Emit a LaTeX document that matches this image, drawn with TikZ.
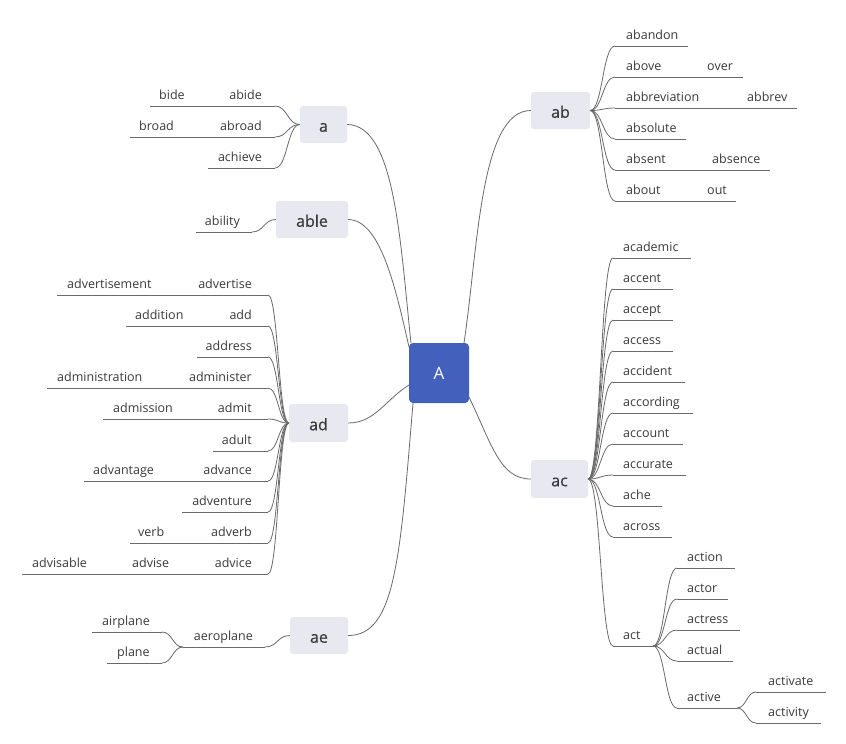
\documentclass[tikz,border=0pt]{standalone}
\usepackage{fontspec}
\setmainfont{Open Sans}
\newfontfamily\topicfont[FakeBold=0.6]{Open Sans}
\usetikzlibrary{calc}
\definecolor{topicfill}{HTML}{E8E8F0}
\definecolor{rootfill}{HTML}{4361BC}
\definecolor{txt}{HTML}{3A3A3A}
\definecolor{lncol}{HTML}{6A6A6A}
\tikzset{
 ln/.style={draw=lncol, line width=0.8pt},
 wtext/.style={text=txt, font=\fontsize{12.5}{14}\selectfont, inner sep=0pt},
 topic/.style={fill=topicfill, rounded corners=3pt, text=txt, font=\topicfont\fontsize{16}{19}\selectfont, inner sep=0pt, text height=14.5pt, text depth=0pt},
 rootbox/.style={fill=rootfill, rounded corners=4pt, text=white, font=\fontsize{17}{20}\selectfont, minimum width=60pt, minimum height=60pt, inner sep=0pt},
}
\newcommand\curv[2]{\draw[ln] let \p1=(#1), \p2=(#2) in (\p1) .. controls ({0.5*\x1+0.5*\x2},\y1) and ({0.5*\x1+0.5*\x2},\y2) .. (\p2);}
\newcommand\wseg[7]{%
 \coordinate (#1-l) at (#4,#6);
 \coordinate (#1-r) at (#5,#6);
 \node[wtext,anchor=#2] (#1) at (#3,#6-6.3) {#7};
 \draw[ln] (#1-l) -- (#1-r);}
\begin{document}
\begin{tikzpicture}[x=1pt,y=-1pt]
\useasboundingbox[fill=white] (0,0) rectangle (846,744);
% root and topics
\node[rootbox] (A) at (439,373) {A};
\node[topic, minimum width=47pt, minimum height=37pt] (a) at (323.5,124.5) {a};
\node[topic, minimum width=72pt, minimum height=37pt] (able) at (312,219.5) {able};
\node[topic, minimum width=59pt, minimum height=38pt] (ad) at (318.5,423) {ad};
\node[topic, minimum width=58pt, minimum height=37pt] (ae) at (319,635.5) {ae};
\node[topic, minimum width=59pt, minimum height=37pt] (ab) at (560.5,110.5) {ab};
\node[topic, minimum width=57pt, minimum height=38pt] (ac) at (559.5,479) {ac};
% root connectors
\coordinate (A-a) at (411,343);
\coordinate (A-able) at (409,347);
\coordinate (A-ad) at (409,385);
\coordinate (A-ae) at (413,403);
\coordinate (A-ab) at (464,343);
\coordinate (A-ac) at (469,397);
\draw[ln] (A-a) .. controls (400,240) and (395,125) .. (a.east);
\draw[ln] (A-able) .. controls (395,285) and (380,220) .. (able.east);
\draw[ln] (A-ad) .. controls (385,400) and (375,423) .. (ad.east);
\draw[ln] (A-ae) .. controls (400,560) and (395,635.5) .. (ae.east);
\draw[ln] (A-ab) .. controls (478,250) and (480,110.5) .. (ab.west);
\draw[ln] (A-ac) .. controls (492,445) and (500,479) .. (ac.west);
% a
\wseg{abide}{base east}{262}{218}{275}{106}{abide}
\wseg{bide}{base west}{159}{150}{218}{106}{bide}
\wseg{abroad}{base east}{262}{218}{275}{137}{abroad}
\wseg{broad}{base west}{139}{130}{218}{137}{broad}
\wseg{achieve}{base east}{262}{208}{275}{168}{achieve}
\curv{a.west}{abide-r}
\curv{a.west}{abroad-r}
\curv{a.west}{achieve-r}
% able
\wseg{ability}{base east}{240}{196}{252}{232}{ability}
\curv{able.west}{ability-r}
% ad
\wseg{advertise}{base east}{252}{180}{268}{295}{advertise}
\wseg{advertisement}{base west}{67}{57}{180}{295}{advertisement}
\wseg{add}{base east}{252}{220}{268}{326}{add}
\wseg{addition}{base west}{135}{126}{220}{326}{addition}
\wseg{address}{base east}{252}{197}{268}{357}{address}
\wseg{administer}{base east}{252}{180}{268}{388}{administer}
\wseg{administration}{base west}{57}{47}{180}{388}{administration}
\wseg{admit}{base east}{252}{185}{268}{419}{admit}
\wseg{admission}{base west}{113}{103}{185}{419}{admission}
\wseg{adult}{base east}{252}{213}{268}{451}{adult}
\wseg{advance}{base east}{252}{170}{268}{481}{advance}
\wseg{advantage}{base west}{93}{84}{170}{481}{advantage}
\wseg{adventure}{base east}{252}{182}{268}{512}{adventure}
\wseg{adverb}{base east}{252}{180}{268}{543}{adverb}
\wseg{verb}{base west}{138}{130}{180}{543}{verb}
\wseg{advice}{base east}{252}{200}{268}{574}{advice}
\wseg{advise}{base west}{132}{122}{200}{574}{advise}
\wseg{advisable}{base west}{32}{22}{122}{574}{advisable}
\foreach \w in {advertise,add,address,administer,admit,adult,advance,adventure,adverb,advice}{\curv{ad.west}{\w-r}}
% ae
\wseg{aeroplane}{base east}{253}{183}{265}{647}{aeroplane}
\wseg{airplane}{base west}{102}{92}{162}{632}{airplane}
\wseg{plane}{base west}{117}{107}{162}{663}{plane}
\curv{ae.west}{aeroplane-r}
\curv{aeroplane-l}{airplane-r}
\curv{aeroplane-l}{plane-r}
% ab
\wseg{abandon}{base west}{626}{615}{688}{46}{abandon}
\wseg{above}{base west}{626}{615}{697}{77}{above}
\wseg{over}{base west}{707}{697}{743}{77}{over}
\wseg{abbreviation}{base west}{626}{615}{737}{108}{abbreviation}
\wseg{abbrev}{base west}{747}{737}{797}{108}{abbrev}
\wseg{absolute}{base west}{626}{615}{686}{139}{absolute}
\wseg{absent}{base west}{626}{615}{702}{170}{absent}
\wseg{absence}{base west}{712}{702}{770}{170}{absence}
\wseg{about}{base west}{626}{615}{697}{201}{about}
\wseg{out}{base west}{707}{697}{736}{201}{out}
\foreach \w in {abandon,above,abbreviation,absolute,absent,about}{\curv{ab.east}{\w-l}}
% ac
\wseg{academic}{base west}{623}{613}{691}{258}{academic}
\wseg{accent}{base west}{623}{613}{673}{289}{accent}
\wseg{accept}{base west}{623}{613}{673}{320}{accept}
\wseg{access}{base west}{623}{613}{673}{351}{access}
\wseg{accident}{base west}{623}{613}{685}{382}{accident}
\wseg{according}{base west}{623}{613}{693}{413}{according}
\wseg{account}{base west}{623}{613}{683}{444}{account}
\wseg{accurate}{base west}{623}{613}{686}{475}{accurate}
\wseg{ache}{base west}{623}{613}{662}{506}{ache}
\wseg{across}{base west}{623}{613}{672}{537}{across}
\wseg{act}{base west}{623}{613}{653}{646}{act}
\foreach \w in {academic,accent,accept,access,accident,according,account,accurate,ache,across,act}{\curv{ac.east}{\w-l}}
% act
\wseg{action}{base west}{687}{677}{735}{568}{action}
\wseg{actor}{base west}{687}{677}{728}{599}{actor}
\wseg{actress}{base west}{687}{677}{740}{630}{actress}
\wseg{actual}{base west}{687}{677}{733}{661}{actual}
\wseg{active}{base west}{687}{677}{737}{708}{active}
\foreach \w in {action,actor,actress,actual,active}{\curv{act-r}{\w-l}}
% active
\wseg{activate}{base west}{768}{756}{826}{692}{activate}
\wseg{activity}{base west}{768}{756}{821}{723}{activity}
\curv{active-r}{activate-l}
\curv{active-r}{activity-l}
\end{tikzpicture}
\end{document}
